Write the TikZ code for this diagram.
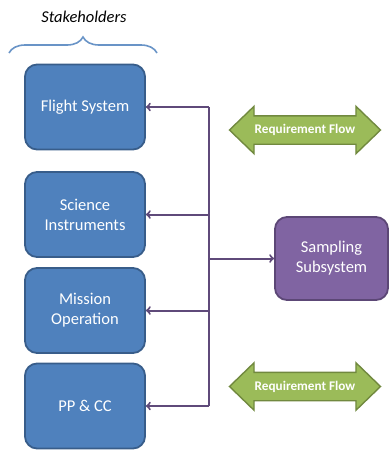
\documentclass[tikz,border=0pt]{standalone}
\usepackage{fontspec}
\setmainfont{Carlito}
\usepackage{tikz}
\usetikzlibrary{shapes.arrows,decorations.pathreplacing}

\definecolor{stkblue}{HTML}{4F81BD}
\definecolor{stkborder}{HTML}{385D8A}
\definecolor{subpurple}{HTML}{8064A2}
\definecolor{subborder}{HTML}{5C4776}
\definecolor{flowgreen}{HTML}{9BBB59}
\definecolor{flowborder}{HTML}{71893F}
\definecolor{linkpurple}{HTML}{5F4A7A}

\tikzset{
	stakebox/.style={rectangle, rounded corners=12pt, draw=stkborder, line width=1.8pt, fill=stkblue, text=white, minimum width=120pt, minimum height=85pt, align=center, font=\fontsize{16.5}{20}\selectfont},
	subbox/.style={stakebox, draw=subborder, fill=subpurple, minimum width=113pt, minimum height=83pt},
	reqflow/.style={double arrow, draw=flowborder, line width=1.4pt, fill=flowgreen, text=white, font=\fontsize{13.2}{15}\bfseries, minimum height=151pt, minimum width=46pt, double arrow head extend=9.5pt, double arrow tip angle=88, inner ysep=8pt, inner xsep=2pt, text height=9pt, text depth=2pt},
	link/.style={linkpurple, line width=2pt}
}

\begin{document}
\begin{tikzpicture}[x=1pt,y=-1pt]
	\useasboundingbox (0,0) rectangle (390,451);
	\node[font=\fontsize{16.5}{20}\itshape] (stk) at (84,17) {Stakeholders};
	\draw[stkblue!85, line width=1.6pt, decorate, decoration={brace, amplitude=16pt}] (9,53) -- (157,53);
	
	\node[stakebox] (fs) at (85,107) {Flight System};
	\node[stakebox] (si) at (85,214.5) {Science\\Instruments};
	\node[stakebox] (mo) at (85,310.5) {Mission\\Operation};
	\node[stakebox] (pp) at (85,406) {PP \& CC};
	\node[subbox] (ss) at (331.5,258.5) {Sampling\\Subsystem};
	
	\node[reqflow] (rf1) at (305,130) {Requirement Flow};
	\node[reqflow] (rf2) at (305,386.5) {Requirement Flow};
	
	\coordinate (bus) at (209,0);
	% bus line
	\draw[link] (fs.east -| bus) -- (pp.east -| bus);
	% stakeholders
	\draw[link,->](fs.east -| bus) -- (fs.east);
	\draw[link,->](si.east -| bus) -- (si.east);
	\draw[link,->](mo.east -| bus) -- (mo.east);
	\draw[link,->](pp.east -| bus) -- (pp.east);
	% subsystem
	\draw[link,->](ss.west -| bus) -- (ss.west);
\end{tikzpicture}
\end{document}
